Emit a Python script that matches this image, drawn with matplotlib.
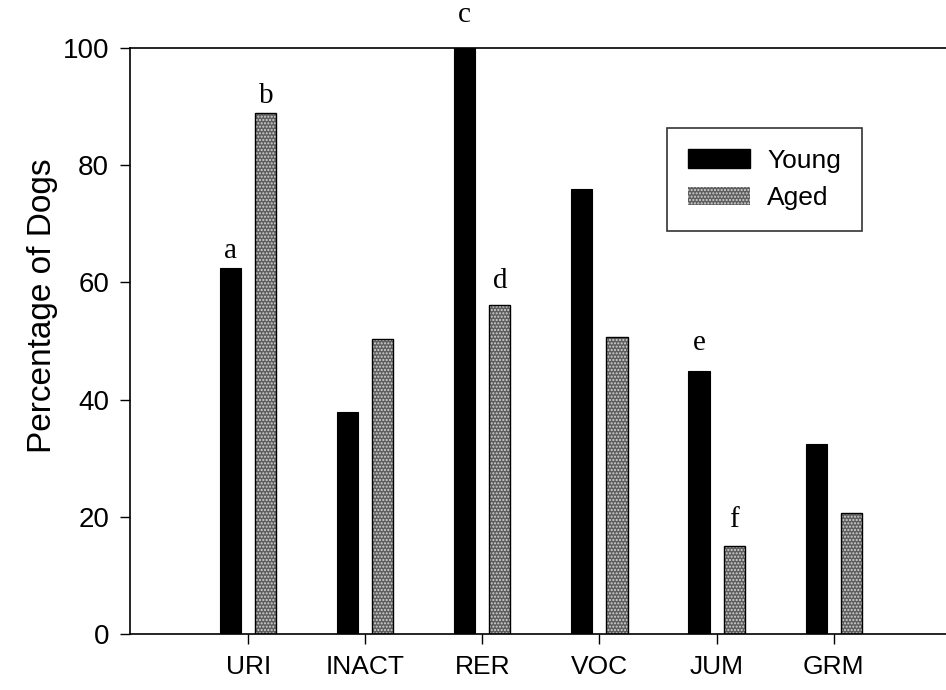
import matplotlib.pyplot as plt
import numpy as np
from matplotlib.patches import Rectangle

categories = ['URI', 'INACT', 'RER', 'VOC', 'JUM', 'GRM']
young = [62.5, 37.8, 100.0, 75.9, 44.8, 32.4]
aged = [88.9, 50.4, 56.2, 50.7, 15.0, 20.6]

# significance letters: (category index, group, letter)
letters = [(0, 'young', 'a'), (0, 'aged', 'b'), (2, 'young', 'c'),
           (2, 'aged', 'd'), (4, 'young', 'e'), (4, 'aged', 'f')]
# lift of each letter's baseline above its bar
gaps = [1.7, 1.7, 4.4, 2.9, 3.6, 3.2]

plt.rcParams['font.family'] = ['Liberation Sans', 'DejaVu Sans']

fig = plt.figure(figsize=(9.46, 6.90), dpi=100)
ax = fig.add_axes([130 / 946, 56 / 690, 816 / 946, 586 / 690])

x = np.arange(len(categories))
off = 0.15
width = 0.18

ax.bar(x - off, young, width, color='black', edgecolor='black', linewidth=0.8, zorder=2)
# speckled grey fill for the aged bars, outlined in black on top
ax.bar(x + off, aged, width, color='#5e5e5e', edgecolor='#d4d4d4', hatch='.....',
       linewidth=0, zorder=2)
ax.bar(x + off, aged, width, fill=False, edgecolor='black', linewidth=1.0, zorder=3)

for (i, grp, txt), g in zip(letters, gaps):
    if grp == 'young':
        xx, yy = x[i] - off, young[i]
    else:
        xx, yy = x[i] + off, aged[i]
    ax.text(xx, yy + g, txt, ha='center', va='baseline', fontsize=21,
            family=['Liberation Serif', 'DejaVu Serif'])

ax.set_xlim(-1.01, 5.96)
ax.set_ylim(0, 100)
ax.set_xticks(x)
ax.set_xticklabels(categories, fontsize=19)
ax.set_yticks([0, 20, 40, 60, 80, 100])
ax.tick_params(axis='y', labelsize=20, length=7, width=1, direction='out', pad=8)
ax.tick_params(axis='x', length=7, width=1, direction='out', pad=8)
ax.set_ylabel('Percentage of Dogs', fontsize=24)
ax.yaxis.set_label_coords(-0.088, 0.561)

ax.spines['right'].set_visible(False)
for s in ['left', 'bottom', 'top']:
    ax.spines[s].set_linewidth(1.2)

h1 = Rectangle((0, 0), 1, 1, facecolor='black', edgecolor='black')
h2 = Rectangle((0, 0), 1, 1, facecolor='#5e5e5e', edgecolor='#d4d4d4', hatch='.....', linewidth=0)
leg = ax.legend([h1, h2], ['Young', 'Aged'], loc='upper left',
                bbox_to_anchor=(0.658, 0.864), fontsize=19, frameon=True,
                fancybox=False, handlelength=2.35, handleheight=0.7,
                borderpad=0.8, labelspacing=0.5, handletextpad=0.65,
                borderaxespad=0)
leg.get_frame().set_edgecolor('black')
leg.get_frame().set_linewidth(1.2)

fig.savefig('out.png', dpi=100)
